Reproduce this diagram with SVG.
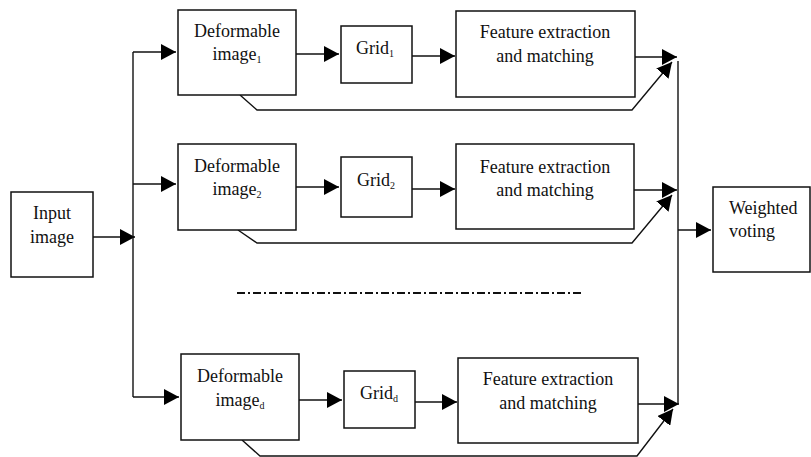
<svg xmlns="http://www.w3.org/2000/svg" width="811" height="457" viewBox="0 0 811 457">
<style>
.box{fill:#fff;stroke:#111;stroke-width:1.5}
.ln{fill:none;stroke:#111;stroke-width:1.4}
.t{font-family:'Liberation Serif','DejaVu Serif',serif;font-size:18px;fill:#111}
.m{text-anchor:middle}
.s{font-size:10px}
.dash{fill:none;stroke:#111;stroke-width:2;stroke-dasharray:8 3 2 3}
</style>
<defs>
<marker id="ah" markerUnits="userSpaceOnUse" markerWidth="16" markerHeight="16" refX="15" refY="8" orient="auto" viewBox="0 0 16 16">
<path d="M0,0 L15,8 L0,16 z" fill="#000"/>
</marker>
</defs>
<rect width="811" height="457" fill="#fff"/>
<g id="connectors">
<path class="ln" d="M93,237 H135" marker-end="url(#ah)"/>
<path class="ln" d="M133,52 V397"/>
<path class="ln" d="M133,52 H176" marker-end="url(#ah)"/>
<path class="ln" d="M133,184 H176" marker-end="url(#ah)"/>
<path class="ln" d="M133,397 H179" marker-end="url(#ah)"/>
<path class="ln" d="M296,54 H339" marker-end="url(#ah)"/>
<path class="ln" d="M412,56 H455" marker-end="url(#ah)"/>
<path class="ln" d="M635,57 H677" marker-end="url(#ah)"/>
<path class="ln" d="M240,95 L257,110 H632 L672,62" marker-end="url(#ah)"/>
<path class="ln" d="M296,187 H339" marker-end="url(#ah)"/>
<path class="ln" d="M412,189 H455" marker-end="url(#ah)"/>
<path class="ln" d="M634,190 H677" marker-end="url(#ah)"/>
<path class="ln" d="M238,230 L257,243 H632 L672,195" marker-end="url(#ah)"/>
<path class="ln" d="M299,400 H342" marker-end="url(#ah)"/>
<path class="ln" d="M415,402 H457" marker-end="url(#ah)"/>
<path class="ln" d="M638,404 H679" marker-end="url(#ah)"/>
<path class="ln" d="M242,440 L260,456 H637 L673,409" marker-end="url(#ah)"/>
<path class="ln" d="M678,61 V404"/>
<path class="ln" d="M678,230 H711" marker-end="url(#ah)"/>
<path class="dash" d="M237,293 H582"/>
</g>
<g id="input">
<rect class="box" x="11" y="192" width="82" height="85"/>
<text class="t m" x="52" y="219">Input</text>
<text class="t m" x="52" y="243">image</text>
</g>
<g id="deform1">
<rect class="box" x="178" y="10" width="118" height="85"/>
<text class="t m" x="237" y="37">Deformable</text>
<text class="t m" x="237" y="60">image<tspan class="s" dy="3">1</tspan></text>
</g>
<g id="grid1">
<rect class="box" x="341" y="26" width="71" height="57"/>
<text class="t m" x="375" y="54">Grid<tspan class="s" dy="3">1</tspan></text>
</g>
<g id="feature1">
<rect class="box" x="456" y="11" width="179" height="86"/>
<text class="t m" x="545" y="38">Feature extraction</text>
<text class="t m" x="545" y="62">and matching</text>
</g>
<g id="deform2">
<rect class="box" x="178" y="144" width="118" height="86"/>
<text class="t m" x="237" y="172">Deformable</text>
<text class="t m" x="237" y="195">image<tspan class="s" dy="3">2</tspan></text>
</g>
<g id="grid2">
<rect class="box" x="341" y="157" width="71" height="60"/>
<text class="t m" x="376" y="186">Grid<tspan class="s" dy="3">2</tspan></text>
</g>
<g id="feature2">
<rect class="box" x="456" y="144" width="178" height="85"/>
<text class="t m" x="545" y="173">Feature extraction</text>
<text class="t m" x="545" y="196">and matching</text>
</g>
<g id="deformd">
<rect class="box" x="181" y="354" width="118" height="86"/>
<text class="t m" x="240" y="382">Deformable</text>
<text class="t m" x="240" y="406">image<tspan class="s" dy="3">d</tspan></text>
</g>
<g id="gridd">
<rect class="box" x="344" y="371" width="71" height="57"/>
<text class="t m" x="379" y="399">Grid<tspan class="s" dy="3">d</tspan></text>
</g>
<g id="featured">
<rect class="box" x="458" y="358" width="180" height="85"/>
<text class="t m" x="548" y="385">Feature extraction</text>
<text class="t m" x="548" y="409">and matching</text>
</g>
<g id="voting">
<rect class="box" x="713" y="187" width="97" height="85"/>
<text class="t" x="729" y="214">Weighted</text>
<text class="t" x="729" y="237">voting</text>
</g>
</svg>
